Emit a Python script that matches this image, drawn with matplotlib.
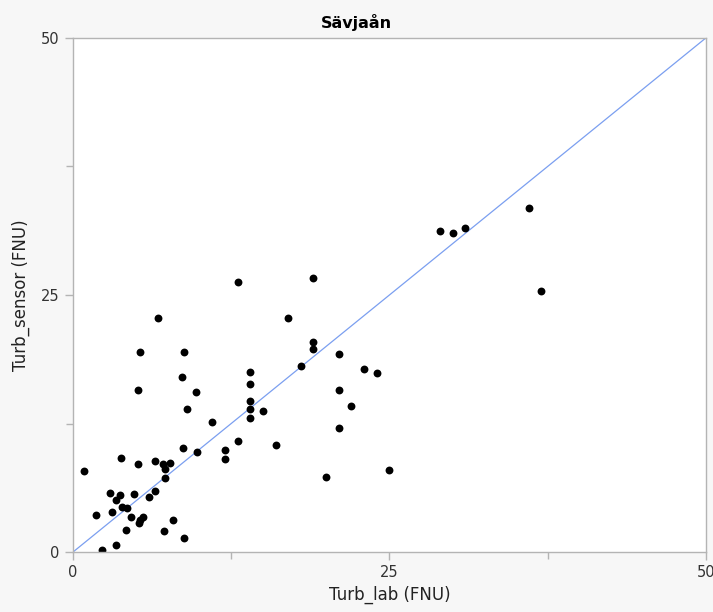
import matplotlib
matplotlib.use('Agg')
import matplotlib.pyplot as plt
from matplotlib.ticker import MultipleLocator

# lab vs sensor turbidity
turb_lab = [5.3, 8.8, 8.6, 5.1, 9.7, 9.0, 11.0, 14, 14, 14, 14, 14, 15, 13, 12, 12,
            9.8, 8.7, 3.8, 5.1, 0.9, 6.5, 7.1, 7.7, 7.3, 7.3, 2.9, 3.7, 3.4, 4.8,
            6.5, 6.0, 1.8, 3.1, 3.9, 4.3, 4.6, 5.5, 5.3, 5.2, 4.2, 7.9, 7.2, 8.8,
            3.4, 2.3, 13, 19, 17, 19, 19, 21, 18, 23, 24, 21, 22, 21, 16, 20, 25,
            29, 30, 31, 36, 37, 6.7]
turb_sensor = [19.5, 19.5, 17.0, 15.8, 15.6, 13.9, 12.6, 17.5, 16.3, 14.7, 13.9, 13.0,
               13.7, 10.8, 9.9, 9.0, 9.7, 10.1, 9.1, 8.6, 7.9, 8.9, 8.6, 8.7, 8.1,
               7.2, 5.7, 5.5, 5.1, 5.6, 5.9, 5.4, 3.6, 3.9, 4.4, 4.3, 3.4, 3.4, 3.1,
               2.8, 2.1, 3.1, 2.0, 1.4, 0.7, 0.2, 26.3, 26.7, 22.8, 20.4, 19.7, 19.3,
               18.1, 17.8, 17.4, 15.8, 14.2, 12.1, 10.4, 7.3, 8.0, 31.2, 31.0, 31.5,
               33.5, 25.4, 22.8]
axis_range = [0, 50]
major_ticks = [0, 25, 50]

fig = plt.figure(figsize=(7.13, 6.12), dpi=100, facecolor='#f7f7f7')
ax = fig.add_axes([0.1024, 0.098, 0.8876, 0.840])
ax.set_facecolor('white')

# 1:1 reference line
ax.plot(axis_range, axis_range, color='#7b9ff0', lw=0.9, zorder=1)
ax.scatter(turb_lab, turb_sensor, s=32, color='black', zorder=2, linewidths=0)

ax.set_xlim(axis_range)
ax.set_ylim(axis_range)
ax.set_xticks(major_ticks)
ax.set_yticks(major_ticks)
ax.xaxis.set_minor_locator(MultipleLocator(12.5))
ax.yaxis.set_minor_locator(MultipleLocator(12.5))

for s in ax.spines.values():
    s.set_color('#b4b4b4')
    s.set_linewidth(1.0)
ax.tick_params(which='both', direction='out', color='#b4b4b4', width=1.0,
               labelsize=10.5, labelcolor='#333333')
ax.tick_params(which='major', length=6)
ax.tick_params(which='minor', length=5)

ax.set_xlabel('Turb_lab (FNU)', fontsize=12, color='#222222', labelpad=4)
ax.set_ylabel('Turb_sensor (FNU)', fontsize=12, color='#222222', labelpad=8)
# title is centred on the whole figure, not on the axes
fig.text(0.5, 0.963, 'Sävjaån', ha='center', va='center',
         fontsize=11.5, fontweight='bold')

fig.savefig('out.png', dpi=100, facecolor=fig.get_facecolor())
